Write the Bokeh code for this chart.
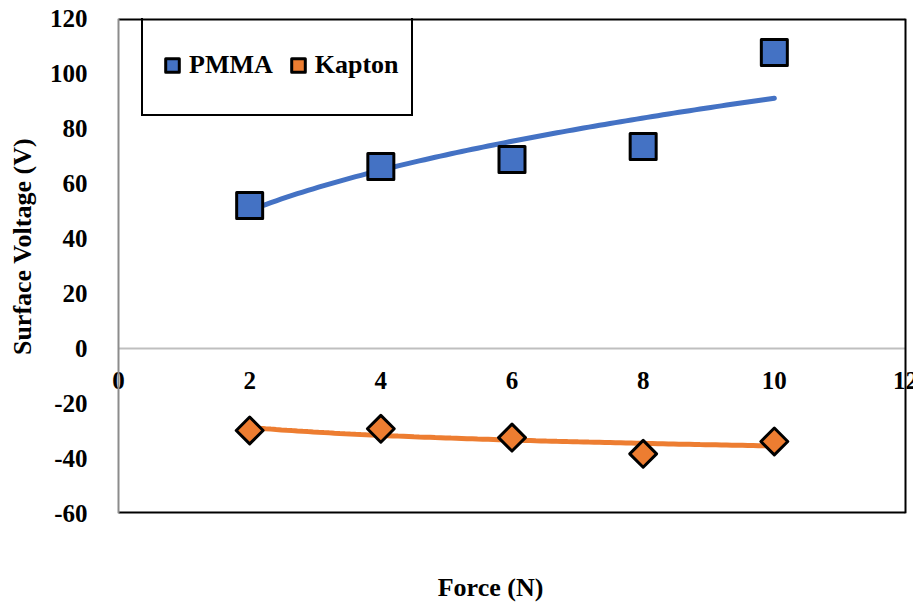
import numpy as np
from bokeh.plotting import figure
from bokeh.models import Range1d, FixedTicker, Span, Legend, LegendItem, Label
from bokeh.embed import file_html
from bokeh.resources import INLINE

# ---- data ----
force = [2, 4, 6, 8, 10]
pmma = [52.0, 66.2, 68.7, 73.5, 107.6]
kapton = [-29.8, -29.2, -32.4, -38.3, -33.8]
x_ticks = [0, 2, 4, 6, 8, 10, 12]
x_tick_labels = ["0", "2", "4", "6", "8", "10", "12"]
y_ticks = [-60, -40, -20, 0, 20, 40, 60, 80, 100, 120]
y_tick_labels = ["-60", "-40", "-20", "0", "20", "40", "60", "80", "100", "120"]

FONT = "Liberation Serif"
BLUE = "#4472C4"
ORANGE = "#ED7D31"
NB = "\u00a0"

XMIN, XMAX = x_ticks[0], x_ticks[-1]
YMIN, YMAX = y_ticks[0], y_ticks[-1]

# trendlines (power fit for PMMA, logarithmic fit for Kapton)
xf = np.linspace(min(force), max(force), 100)
pb, pa = np.polyfit(np.log(force), np.log(pmma), 1)
pmma_fit = np.exp(pa) * xf ** pb
ka, kb = np.polyfit(np.log(force), kapton, 1)
kapton_fit = ka * np.log(xf) + kb

# plot box is 787 px wide; the frame gets a little extra room on both sides
# so that the "0" and "12" labels are not clipped
BOX_W = 787
PX = BOX_W / (XMAX - XMIN)
PAD_L, PAD_R = 12, 8

p = figure(frame_width=BOX_W + PAD_L + PAD_R, frame_height=495,
           min_border_left=118 - PAD_L, min_border_top=18, min_border_right=0, min_border_bottom=0,
           x_range=Range1d(XMIN - PAD_L / PX, XMAX + PAD_R / PX), y_range=Range1d(YMIN, YMAX),
           output_backend="svg", toolbar_location=None)
p.xgrid.visible = False
p.ygrid.visible = False
p.outline_line_color = None
p.background_fill_color = "white"
p.border_fill_color = "white"

# y axis
ya = p.yaxis[0]
ya.ticker = FixedTicker(ticks=y_ticks)
ya.major_label_overrides = dict(zip(y_ticks, y_tick_labels))
ya.major_tick_line_color = None
ya.minor_tick_line_color = None
ya.axis_line_color = None
ya.major_label_standoff = 25 - PAD_L
ya.major_label_text_font = FONT
ya.major_label_text_font_style = "bold"
ya.major_label_text_font_size = "25px"
ya.major_label_text_color = "black"
ya.axis_label = NB * 6 + "Surface Voltage (V)"
ya.axis_label_text_font = FONT
ya.axis_label_text_font_style = "bold"
ya.axis_label_text_font_size = "26px"
ya.axis_label_text_color = "black"
ya.axis_label_standoff = 10

# x axis (only title below; tick labels drawn at the zero line)
xa = p.xaxis[0]
xa.ticker = FixedTicker(ticks=[])
xa.axis_line_color = None
xa.major_tick_line_color = None
xa.minor_tick_line_color = None
xa.axis_label = "Force (N)" + NB * 6
xa.axis_label_text_font = FONT
xa.axis_label_text_font_style = "bold"
xa.axis_label_text_font_size = "26px"
xa.axis_label_text_color = "black"
xa.axis_label_standoff = 59

# box border: top and bottom (black), zero line (grey)
p.segment(x0=[XMIN, XMIN], y0=[YMAX, YMIN], x1=[XMAX, XMAX], y1=[YMAX, YMIN],
          line_color="black", line_width=4)
p.segment(x0=[XMIN], y0=[0], x1=[XMAX], y1=[0], line_color="#BFBFBF", line_width=2)

p.line(xf, pmma_fit, line_color=BLUE, line_width=5, line_cap="round")
p.line(xf, kapton_fit, line_color=ORANGE, line_width=5, line_cap="round")

r1 = p.scatter(force, pmma, marker="square", size=26, fill_color=BLUE,
               line_color="black", line_width=3, line_join="round")
r2 = p.scatter(force, kapton, marker="square", angle=np.pi / 4, size=19,
               fill_color=ORANGE, line_color="black", line_width=3, line_join="round")

for xv, lab in zip(x_ticks, x_tick_labels):
    p.add_layout(Label(x=xv, y=0, text=lab, y_offset=-32,
                       text_align="center", text_baseline="middle", text_font=FONT,
                       text_font_style="bold", text_font_size="25px", text_color="black"))

p.add_layout(Span(location=XMIN, dimension="height", line_color="#8C8C8C", line_width=2))
p.add_layout(Span(location=XMAX, dimension="height", line_color="black", line_width=2))

legend = Legend(items=[LegendItem(label="PMMA", renderers=[r1]),
                       LegendItem(label="Kapton", renderers=[r2])],
                orientation="horizontal", location=(23 + PAD_L, 397), margin=0,
                padding=12, spacing=8, glyph_width=34, glyph_height=74,
                label_standoff=0, label_text_font=FONT, label_text_font_style="bold",
                label_text_font_size="26px", label_text_color="black",
                border_line_color="black", border_line_width=2, border_line_alpha=1,
                background_fill_color="white", background_fill_alpha=0)
p.add_layout(legend, "center")

open("out.html", "w").write(file_html(p, INLINE))
